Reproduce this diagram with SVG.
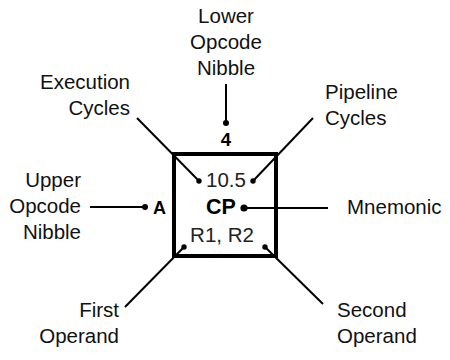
<svg xmlns="http://www.w3.org/2000/svg" width="450" height="360" viewBox="0 0 450 360">
<style>
.lbl{font-family:"Liberation Sans",Arial,sans-serif;font-size:20.5px;fill:#111}
.in{font-family:"Liberation Sans",Arial,sans-serif;font-size:20.5px;fill:#222}
.b{font-family:"Liberation Sans",Arial,sans-serif;font-weight:bold;fill:#000}
.ln{stroke:#000;stroke-width:2;fill:none}
.dot{fill:#000}
</style>
<rect width="450" height="360" fill="#fff"/>
<g id="connectors">
<line class="ln" x1="137" y1="118" x2="199" y2="181"/>
<line class="ln" x1="313" y1="118" x2="253" y2="181"/>
<line class="ln" x1="226" y1="84" x2="226" y2="123"/>
<line class="ln" x1="90" y1="207" x2="145" y2="207"/>
<line class="ln" x1="244" y1="208" x2="328" y2="208"/>
<line class="ln" x1="125" y1="307" x2="184" y2="247"/>
<line class="ln" x1="323" y1="304" x2="265" y2="247"/>
<circle class="dot" cx="199" cy="181" r="2.7"/>
<circle class="dot" cx="253" cy="181" r="2.7"/>
<circle class="dot" cx="226" cy="123" r="3"/>
<circle class="dot" cx="145" cy="207" r="3"/>
<circle class="dot" cx="244" cy="208" r="3.6"/>
<circle class="dot" cx="184" cy="247" r="2.7"/>
<circle class="dot" cx="265" cy="247" r="2.7"/>
</g>
<g id="instruction">
<rect x="174" y="154" width="102" height="102" fill="none" stroke="#000" stroke-width="4"/>
<text class="in" x="206" y="187">10.5</text>
<text class="b" x="206" y="214" style="font-size:21.5px">CP</text>
<text class="in" x="222" y="242" text-anchor="middle">R1, R2</text>
<text class="b" x="226" y="146" style="font-size:18.5px" text-anchor="middle">4</text>
<text class="b" x="159.5" y="214" style="font-size:18px" text-anchor="middle">A</text>
</g>
<g id="lower-nibble"><text class="lbl" text-anchor="middle"><tspan x="226" y="23">Lower</tspan><tspan x="226" y="49">Opcode</tspan><tspan x="226" y="75">Nibble</tspan></text></g>
<g id="execution"><text class="lbl" text-anchor="end"><tspan x="130" y="89">Execution</tspan><tspan x="130" y="115">Cycles</tspan></text></g>
<g id="pipeline"><text class="lbl"><tspan x="325" y="99">Pipeline</tspan><tspan x="325" y="125">Cycles</tspan></text></g>
<g id="upper-nibble"><text class="lbl" text-anchor="end"><tspan x="81" y="187">Upper</tspan><tspan x="81" y="213">Opcode</tspan><tspan x="81" y="239">Nibble</tspan></text></g>
<g id="mnemonic"><text class="lbl" x="347" y="214">Mnemonic</text></g>
<g id="first"><text class="lbl" text-anchor="end"><tspan x="119" y="317">First</tspan><tspan x="119" y="343">Operand</tspan></text></g>
<g id="second"><text class="lbl"><tspan x="337" y="317">Second</tspan><tspan x="337" y="343">Operand</tspan></text></g>
</svg>
